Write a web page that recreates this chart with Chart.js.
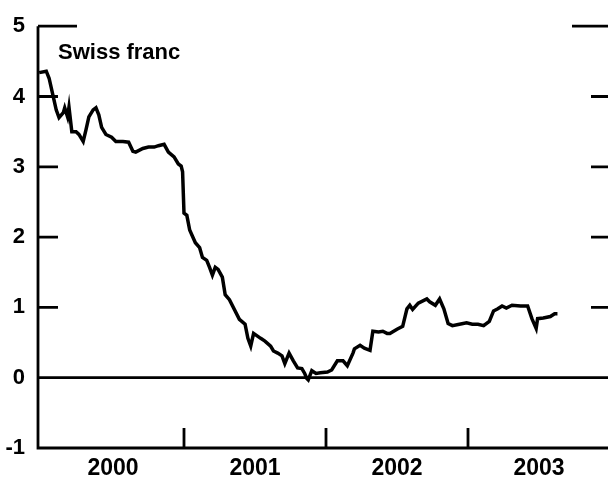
<!DOCTYPE html>
<html>
<head>
<meta charset="utf-8">
<title>Swiss franc</title>
<script src="https://cdn.jsdelivr.net/npm/chart.js@4/dist/chart.umd.min.js"></script>
<style>
    body { margin: 0; background: #fff; }
    #wrap { width: 608px; height: 477px; }
</style>
</head>
<body>
<div id="wrap"><canvas id="chart" width="608" height="477"></canvas></div>
<script>
// decimal years
const dates = [
    1999.98, 2000.03, 2000.05, 2000.08, 2000.10, 2000.12, 2000.15, 2000.16, 2000.18, 2000.19,
    2000.21, 2000.24, 2000.26, 2000.29, 2000.31, 2000.33, 2000.36, 2000.38, 2000.40, 2000.42,
    2000.45, 2000.49, 2000.52, 2000.57, 2000.61, 2000.64, 2000.66, 2000.71, 2000.75, 2000.79,
    2000.82, 2000.86, 2000.89, 2000.93, 2000.96, 2000.98, 2000.99, 2001.00, 2001.02, 2001.04,
    2001.08, 2001.11, 2001.13, 2001.16, 2001.18, 2001.20, 2001.22, 2001.24, 2001.27, 2001.29,
    2001.32, 2001.39, 2001.43, 2001.45, 2001.47, 2001.49, 2001.54, 2001.57, 2001.61, 2001.63,
    2001.66, 2001.69, 2001.71, 2001.74, 2001.77, 2001.80, 2001.83, 2001.85, 2001.865, 2001.875,
    2001.90, 2001.93, 2001.96, 2002.01, 2002.04, 2002.08, 2002.12, 2002.15, 2002.19, 2002.20,
    2002.24, 2002.27, 2002.31, 2002.33, 2002.37, 2002.40, 2002.43, 2002.45, 2002.50, 2002.54,
    2002.57, 2002.59, 2002.61, 2002.65, 2002.71, 2002.73, 2002.77, 2002.80, 2002.83, 2002.86,
    2002.89, 2002.94, 2002.99, 2003.03, 2003.07, 2003.11, 2003.15, 2003.18, 2003.21, 2003.24,
    2003.27, 2003.31, 2003.37, 2003.42, 2003.45, 2003.48, 2003.49, 2003.53, 2003.58, 2003.61,
    2003.63
];
const rates = [
    4.34, 4.36, 4.26, 3.99, 3.81, 3.70, 3.77, 3.84, 3.71, 3.85,
    3.50, 3.50, 3.46, 3.36, 3.53, 3.71, 3.81, 3.84, 3.74, 3.56,
    3.46, 3.42, 3.36, 3.36, 3.35, 3.22, 3.21, 3.26, 3.28, 3.28,
    3.30, 3.32, 3.21, 3.14, 3.04, 3.01, 2.93, 2.34, 2.31, 2.10,
    1.92, 1.85, 1.71, 1.67, 1.57, 1.46, 1.57, 1.54, 1.43, 1.18,
    1.11, 0.83, 0.76, 0.56, 0.45, 0.63, 0.56, 0.52, 0.45, 0.38,
    0.35, 0.31, 0.20, 0.35, 0.24, 0.14, 0.13, 0.06, -0.01, -0.03,
    0.10, 0.06, 0.07, 0.08, 0.11, 0.24, 0.24, 0.17, 0.35, 0.41,
    0.46, 0.42, 0.39, 0.66, 0.65, 0.66, 0.63, 0.63, 0.69, 0.73,
    0.98, 1.03, 0.97, 1.06, 1.12, 1.08, 1.03, 1.12, 0.98, 0.77,
    0.74, 0.76, 0.78, 0.76, 0.76, 0.74, 0.80, 0.95, 0.98, 1.02,
    0.99, 1.03, 1.02, 1.02, 0.84, 0.70, 0.84, 0.85, 0.87, 0.91,
    0.91
];
const years = [2000, 2001, 2002, 2003];
const yearBreaks = [2001, 2002, 2003];
const yMin = -1, yMax = 5;
const seriesLabel = 'Swiss franc';

const FONT = '"Liberation Sans", Arial, Helvetica, sans-serif';

// axes, zero line, inward tick marks and the panel label
const frame = {
    id: 'frame',
    beforeDatasetsDraw(chart) {
        const { ctx, chartArea: a, scales: { x, y } } = chart;
        ctx.save();
        ctx.strokeStyle = '#000';
        ctx.lineWidth = 2.8;
        ctx.lineCap = 'butt';

        ctx.beginPath();
        ctx.moveTo(a.left, a.top);
        ctx.lineTo(a.left, a.bottom);
        ctx.lineTo(a.right, a.bottom);
        const y0 = y.getPixelForValue(0);
        ctx.moveTo(a.left, y0);
        ctx.lineTo(a.right, y0);

        y.ticks.forEach(t => {
            if (t.value === yMin) return;
            const py = y.getPixelForValue(t.value);
            ctx.moveTo(a.left, py);
            ctx.lineTo(a.left + (t.value === yMax ? 39 : 20), py);
            ctx.moveTo(a.right, py);
            ctx.lineTo(a.right - (t.value === yMax ? 36 : 17), py);
        });

        yearBreaks.forEach(v => {
            const px = x.getPixelForValue(v);
            ctx.moveTo(px, a.bottom);
            ctx.lineTo(px, a.bottom - 20);
        });
        ctx.stroke();

        ctx.fillStyle = '#000';
        ctx.font = 'bold 22px ' + FONT;
        ctx.textBaseline = 'middle';
        ctx.textAlign = 'left';
        ctx.fillText(seriesLabel, a.left + 20, 53);
        ctx.restore();
    }
};

new Chart(document.getElementById('chart'), {
    type: 'line',
    data: {
        datasets: [{
            label: seriesLabel,
            data: dates.map((d, i) => ({ x: d, y: rates[i] })),
            borderColor: '#000',
            borderWidth: 3.5,
            pointRadius: 0,
            tension: 0,
            fill: false
        }]
    },
    options: {
        responsive: false,
        animation: false,
        devicePixelRatio: 1,
        layout: { padding: { top: 20, right: 0, left: 0, bottom: 0 } },
        plugins: { legend: { display: false }, tooltip: { enabled: false } },
        scales: {
            x: {
                type: 'linear',
                min: 2000 - 4 / 142,
                max: 2000 - 4 / 142 + 570 / 142,
                grid: { display: false, drawTicks: false },
                border: { display: false },
                afterBuildTicks: scale => { scale.ticks = years.map(v => ({ value: v + 0.5 })); },
                afterFit: scale => { scale.height = 29; },
                ticks: {
                    autoSkip: false,
                    maxRotation: 0,
                    padding: 7,
                    color: '#000',
                    font: { family: FONT, size: 23, weight: 'bold' },
                    callback: v => String(Math.floor(v))
                }
            },
            y: {
                min: yMin,
                max: yMax,
                grid: { display: false, drawTicks: false },
                border: { display: false },
                afterFit: scale => { scale.width = 38; },
                ticks: {
                    stepSize: 1,
                    padding: 13,
                    color: '#000',
                    font: { family: FONT, size: 22, weight: 'bold' }
                }
            }
        }
    },
    plugins: [frame]
});
</script>
</body>
</html>
